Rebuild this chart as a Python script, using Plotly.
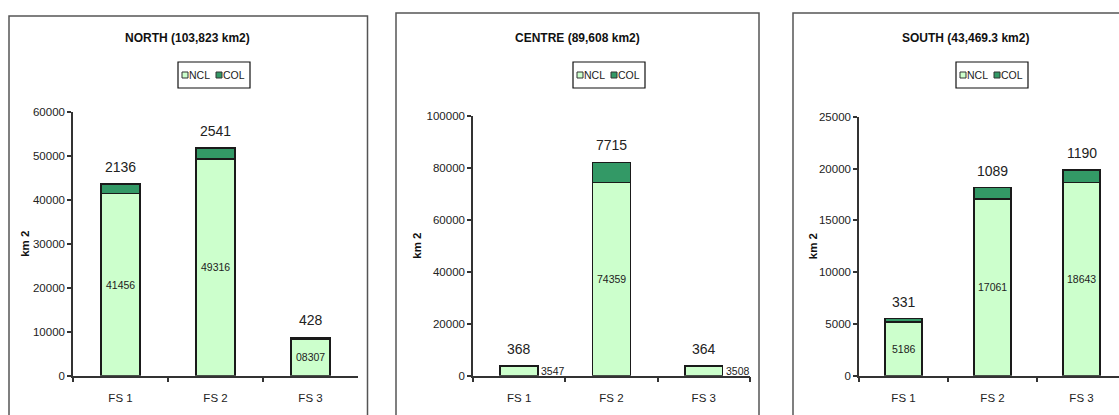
import plotly.graph_objects as go

# ---- data -------------------------------------------------------------
categories = ["FS 1", "FS 2", "FS 3"]

north_ncl = [41456, 49316, 8307]
north_col = [2136, 2541, 428]
north_ncl_text = ["41456", "49316", "08307"]

centre_ncl = [3547, 74359, 3508]
centre_col = [368, 7715, 364]
centre_ncl_text = ["3547", "74359", "3508"]

south_ncl = [5186, 17061, 18643]
south_col = [331, 1089, 1190]
south_ncl_text = ["5186", "17061", "18643"]

titles = ["NORTH (103,823 km2)", "CENTRE (89,608 km2)", "SOUTH (43,469.3 km2)"]
y_max = [60000, 100000, 25000]
y_step = [10000, 20000, 5000]
series_names = ["NCL", "COL"]

# ---- styling ----------------------------------------------------------
W, H = 1119, 415
FONT = "Liberation Sans, Arial, sans-serif"
NCL_COLOR = "#CCFFCC"
COL_COLOR = "#339966"
INK = "#222222"
FRAME = "#555555"


def px(x):
    return x / W


def py(y):
    return 1 - y / H


# panel geometry in pixels
panels = [
    dict(ax_l=73, ax_r=358, cat_w=95, top=112, box=(9, 16, 367.5),
         title_x=187, legend_l=178, ytitle_x=25),
    dict(ax_l=473, ax_r=750, cat_w=92.3, top=115.7, box=(396, 13, 759),
         title_x=577, legend_l=573, ytitle_x=417),
    dict(ax_l=859, ax_r=W, cat_w=89, top=116.7, box=(793, 13, 1130),
         title_x=965, legend_l=956, ytitle_x=813),
]
BASE_Y = 375.7
BAR_W = 0.41

ncl_sets = [north_ncl, centre_ncl, south_ncl]
col_sets = [north_col, centre_col, south_col]
ncl_texts = [north_ncl_text, centre_ncl_text, south_ncl_text]

fig = go.Figure()
annotations = []
shapes = []

for i, p in enumerate(panels):
    sfx = "" if i == 0 else str(i + 1)
    xa, ya = "x" + sfx, "y" + sfx
    ncl, col = ncl_sets[i], col_sets[i]

    fig.add_trace(go.Bar(
        x=categories, y=ncl, name=series_names[0], xaxis=xa, yaxis=ya,
        marker=dict(color=NCL_COLOR, line=dict(color="#1a1a1a", width=1.6)),
        width=BAR_W, showlegend=False, hoverinfo="skip"))
    fig.add_trace(go.Bar(
        x=categories, y=col, name=series_names[1], xaxis=xa, yaxis=ya,
        marker=dict(color=COL_COLOR, line=dict(color="#1a1a1a", width=1.6)),
        width=BAR_W, showlegend=False, hoverinfo="skip"))

    x_hi = (p["ax_r"] - p["ax_l"]) / p["cat_w"] - 0.5
    fig.update_layout(**{
        "xaxis" + sfx: dict(
            domain=[px(p["ax_l"]), px(p["ax_r"])], range=[-0.5, x_hi],
            type="category", anchor=ya, showline=True, linecolor="#333333",
            linewidth=1.5, ticks="outside", tickson="boundaries", ticklen=5,
            tickcolor="#333333", tickwidth=1.5, showgrid=False,
            automargin=False, ticklabelstandoff=11,
            tickfont=dict(family=FONT, size=11.5, color=INK), fixedrange=True),
        "yaxis" + sfx: dict(
            domain=[py(BASE_Y), py(p["top"])], range=[0, y_max[i]],
            dtick=y_step[i], tick0=0, tickformat="d", anchor=xa,
            showline=True, linecolor="#333333", linewidth=1.5,
            ticks="outside", ticklen=4, tickcolor="#333333", tickwidth=1.5,
            showgrid=False, zeroline=False, automargin=False,
            tickfont=dict(family=FONT, size=11.5, color=INK), fixedrange=True),
    })

    # value labels
    for k, cat in enumerate(categories):
        total = ncl[k] + col[k]
        annotations.append(dict(
            x=cat, y=total, xref=xa, yref=ya, text=str(col[k]),
            showarrow=False, xanchor="center", yanchor="bottom", yshift=7,
            font=dict(family=FONT, size=14, color=INK)))
        if ncl[k] / y_max[i] < 0.08:
            annotations.append(dict(
                x=cat, y=ncl[k] / 2, xref=xa, yref=ya, text=ncl_texts[i][k],
                showarrow=False, xanchor="left", yanchor="middle",
                xshift=BAR_W * p["cat_w"] / 2 + 1,
                font=dict(family=FONT, size=10.5, color=INK)))
        else:
            annotations.append(dict(
                x=cat, y=ncl[k] / 2, xref=xa, yref=ya, text=ncl_texts[i][k],
                showarrow=False, xanchor="center", yanchor="middle",
                font=dict(family=FONT, size=10.5, color=INK)))

    # panel title
    annotations.append(dict(
        x=px(p["title_x"]), y=py(38), xref="paper", yref="paper",
        xanchor="center", yanchor="middle",
        text="<b>" + titles[i] + "</b>", showarrow=False,
        font=dict(family=FONT, size=12, color="#111111")))

    # y-axis title
    annotations.append(dict(
        x=px(p["ytitle_x"]), y=py((BASE_Y + p["top"]) / 2), xref="paper",
        yref="paper", xanchor="center", yanchor="middle",
        text="<b>km 2</b>", textangle=-90, showarrow=False,
        font=dict(family=FONT, size=11.5, color="#111111")))

    # panel frame
    bl, bt, br = p["box"]
    shapes.append(dict(type="rect", xref="paper", yref="paper",
                       x0=px(bl), x1=px(br), y0=py(bt), y1=-0.2,
                       line=dict(color=FRAME, width=1.5), layer="below"))

    # legend box
    ll = p["legend_l"]
    shapes.append(dict(type="rect", xref="paper", yref="paper",
                       x0=px(ll), x1=px(ll + 72), y0=py(62), y1=py(88),
                       line=dict(color="#111111", width=1.2),
                       fillcolor="white"))
    for j, (name, colr) in enumerate(zip(series_names, [NCL_COLOR, COL_COLOR])):
        sx = ll + 4 + j * 34
        shapes.append(dict(type="rect", xref="paper", yref="paper",
                           x0=px(sx), x1=px(sx + 6), y0=py(72), y1=py(78),
                           line=dict(color="#333333", width=1),
                           fillcolor=colr))
        annotations.append(dict(
            x=px(sx + 5), y=py(75), xref="paper", yref="paper", text=name,
            showarrow=False, xanchor="left", yanchor="middle",
            font=dict(family=FONT, size=10.5, color=INK)))

fig.update_layout(
    width=W, height=H, autosize=False,
    margin=dict(l=0, r=0, t=0, b=0, pad=0),
    paper_bgcolor="white", plot_bgcolor="white",
    barmode="stack",
    annotations=annotations, shapes=shapes,
    font=dict(family=FONT, color=INK),
)

fig.write_html("out.html", config={"displayModeBar": False})
